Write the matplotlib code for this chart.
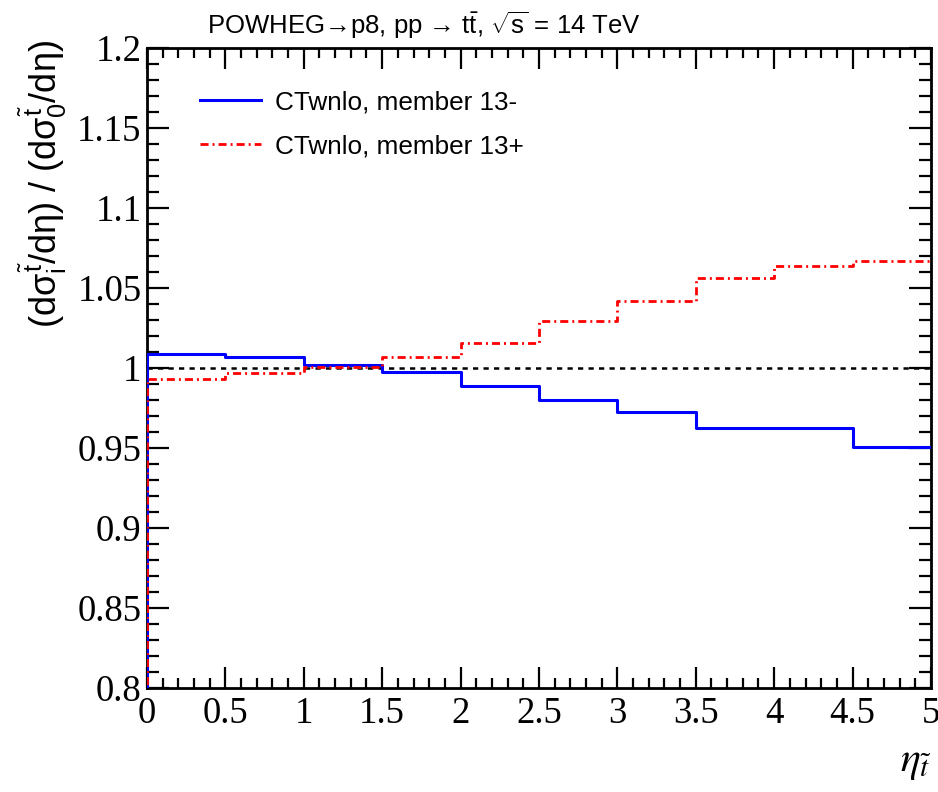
import numpy as np
import matplotlib
matplotlib.use("Agg")
import matplotlib.pyplot as plt
from matplotlib.ticker import MultipleLocator, FuncFormatter

plt.rcParams['mathtext.fontset'] = 'custom'
plt.rcParams['mathtext.rm'] = 'Liberation Sans'
plt.rcParams['mathtext.it'] = 'Liberation Sans'
plt.rcParams['mathtext.bf'] = 'Liberation Sans:bold'

# Bin edges in eta and ratio per bin for the two PDF members
edges = [0, 0.5, 1, 1.5, 2, 2.5, 3, 3.5, 4, 4.5, 5]
member_minus = [1.0088, 1.0067, 1.0019, 0.9973, 0.9890, 0.9800, 0.9723, 0.9625, 0.9625, 0.9504]
member_plus = [0.9930, 0.9967, 1.0006, 1.0070, 1.0154, 1.0294, 1.0420, 1.0565, 1.0640, 1.0670]
labels = ["CTwnlo, member 13-", "CTwnlo, member 13+"]
reference_level = 1.0


def hist_path(e, v, base=0.0):
    """Outline of a histogram that rises from the baseline at the first edge."""
    e = np.asarray(e, float)
    v = np.asarray(v, float)
    xs = np.concatenate([[e[0]], np.repeat(e, 2)[1:-1]])
    ys = np.concatenate([[base], np.repeat(v, 2)])
    return xs, ys


fig = plt.figure(figsize=(9.38, 7.92), dpi=100)
ax = fig.add_axes([0.1567, 0.1313, 0.9925 - 0.1567, 0.9394 - 0.1313])

ax.plot([edges[0], edges[-1]], [reference_level, reference_level], color='black',
        lw=1.8, linestyle=(0, (2.1, 2.1)), zorder=2)

xb, yb = hist_path(edges, member_minus)
ax.plot(xb, yb, color='#0000ff', lw=2.2, label=labels[0], zorder=3)
xr, yr = hist_path(edges, member_plus)
ax.plot(xr, yr, color='#ff0000', lw=2.0, linestyle=(0, (2.9, 1.45, 0.7, 1.45)),
        label=labels[1], zorder=3)

ax.set_xlim(0, 5)
ax.set_ylim(0.8, 1.2)

ax.xaxis.set_major_locator(MultipleLocator(0.5))
ax.xaxis.set_minor_locator(MultipleLocator(0.1))
ax.yaxis.set_major_locator(MultipleLocator(0.05))
ax.yaxis.set_minor_locator(MultipleLocator(0.01))
fmt = FuncFormatter(lambda v, p: f"{round(v, 4):g}")
ax.xaxis.set_major_formatter(fmt)
ax.yaxis.set_major_formatter(fmt)

ax.tick_params(which='both', direction='in', top=True, right=True, width=1.6, color='black')
ax.tick_params(which='major', axis='x', length=15)
ax.tick_params(which='minor', axis='x', length=7.5)
ax.tick_params(which='major', axis='y', length=16)
ax.tick_params(which='minor', axis='y', length=8.5)
ax.tick_params(axis='x', pad=6)
ax.tick_params(axis='y', pad=4)
for lab in ax.get_xticklabels() + ax.get_yticklabels():
    lab.set_fontfamily('Liberation Serif')
    lab.set_fontsize(26.5)
for s in ax.spines.values():
    s.set_linewidth(2.0)

leg = ax.legend(loc='upper left', bbox_to_anchor=(0.054, 0.95), frameon=False,
                handlelength=2.35, handletextpad=0.55, labelspacing=0.75,
                borderaxespad=0.0,
                prop={'family': 'Liberation Sans', 'size': 18.8})

fig.text(0.221, 0.968,
         r'POWHEG→p8, pp → t$\bar{\mathrm{t}}$, $\sqrt{\mathrm{s}}$ = 14 TeV',
         fontsize=18.5, family='Liberation Sans', ha='left', va='center')

fig.text(0.046, 0.95,
         r'$(\mathrm{d}\sigma_{\mathrm{i}}^{\tilde{\mathrm{t}}}/\mathrm{d}\eta)\ /\ (\mathrm{d}\sigma_{0}^{\tilde{\mathrm{t}}}/\mathrm{d}\eta)$',
         fontsize=26, rotation=90, ha='center', va='top')

fig.text(0.993, 0.012, r'$\eta_{\tilde{t}}$', fontsize=30, ha='right', va='bottom',
         math_fontfamily='stix')

fig.savefig('out.png', dpi=100)
